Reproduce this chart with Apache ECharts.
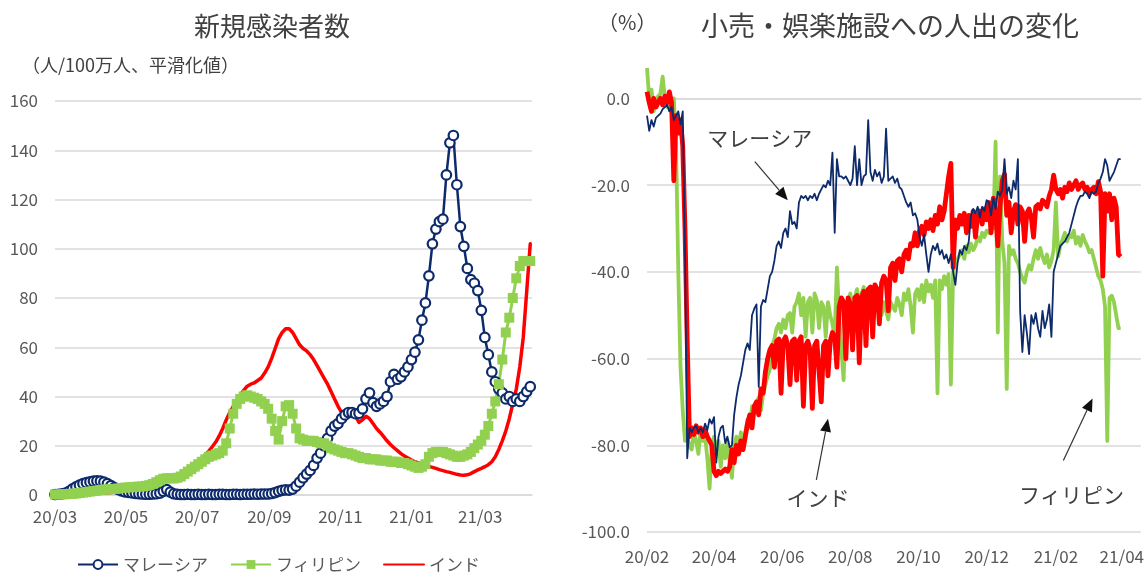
<!DOCTYPE html>
<html><head><meta charset="utf-8">
<script src="https://cdn.jsdelivr.net/npm/echarts@6/dist/echarts.min.js"></script>
<style>html,body{margin:0;padding:0;background:#fff;}#c{width:1147px;height:572px;}</style>
</head><body><div id="c"></div>
<script>
// ---------- Left chart: new cases per 1M (smoothed), one value every 3 days ----------
const caseStartDate = '2020-03-01';
const caseStepDays = 3;
const caseTickDates = ['2020-03-01','2020-05-01','2020-07-01','2020-09-01','2020-11-01','2021-01-01','2021-03-01'];
const caseTickLabels = ['20/03','20/05','20/07','20/09','20/11','21/01','21/03'];
const caseSeriesNames = ['マレーシア','フィリピン','インド'];

const casesMalaysia = [
  0.2,0.3,0.5,0.8,1.5,2.5,3.3,4,4.6,5,
  5.3,5.6,5.7,5.6,5.2,4.6,3.8,3,2.3,1.7,
  1.3,1.1,0.9,0.7,0.5,0.4,0.3,0.3,0.4,0.5,
  0.8,1.5,2.2,1.2,0.5,0.3,0.2,0.2,0.3,0.2,
  0.2,0.3,0.2,0.2,0.3,0.2,0.2,0.3,0.3,0.2,
  0.2,0.3,0.3,0.2,0.3,0.3,0.3,0.4,0.3,0.4,
  0.4,0.4,0.6,1.0,1.5,1.9,2.1,2.0,2.4,3.6,
  5.2,7,8.5,10,12,15,17,20,23,26,
  28,29,31,32.5,33.5,33.5,33,33.2,35,39,
  41.5,37.5,36,37,38,40,46,49,47,48,
  50,52,55,58,63,71,78,89,102,108,
  111,112,130,143,146,126,109,101,92,87.5,
  86,83,75,64,57,50,46,43,41.5,39,
  40,38,39,38,40,42,44
];
const casesPhilippines = [
  0.2,0.2,0.3,0.3,0.4,0.5,0.6,0.8,1,1.2,
  1.4,1.6,1.8,2,2.2,2.3,2.4,2.5,2.6,2.8,
  3,3.1,3.2,3.3,3.4,3.5,3.7,4,4.5,5.2,
  6,6.6,6.8,6.8,6.7,7,7.5,8.5,9.5,10.5,
  11.5,12.5,13.5,14.5,15.5,16,16.5,17,18,21,
  27,33,37,39,40,40.5,40,39.5,39,38,
  37,35,31,26,22.5,30,36,36.5,33,27,
  23,22.5,22,22,22,21.5,21,21,20,19,
  18.5,18,17.5,17,17,16.5,16,15.5,15,15,
  14.5,14.5,14.5,14,14,14,13.5,13.5,13.5,13,
  13,12.5,12,11.5,11,11.5,12.5,15.5,17,17.5,
  17.5,17.5,17,16.5,16,15.5,15.5,16,16.5,17.5,
  19,20.5,22,24.5,28,33,38,45,55,66,
  72,80,88,93,95,95,95
];
const casesIndia = [
  0,0,0,0.1,0.1,0.2,0.2,0.3,0.3,0.4,
  0.4,0.5,0.6,0.7,0.8,0.9,1.0,1.1,1.3,1.4,
  1.6,1.8,2.0,2.2,2.5,2.8,3.2,3.6,4.0,4.5,
  5.0,5.5,6.0,6.5,7.0,7.6,8.4,9.3,10.2,11.2,
  12.3,13.5,14.8,16.2,17.8,19.6,21.5,24,27,30.5,
  33.5,36,38.5,40.5,42.5,44.2,45,45.5,46.5,47.5,
  49.5,52,55.5,59.5,63.5,66,67.5,67.5,66,63.5,
  61,59.5,58.5,57,55,52.5,50,47.5,45,42,
  39,36,33.5,33,33.5,33.5,32,29.5,30.5,32,
  31,29,27,25.5,23.8,22,20.5,19.2,18,16.8,
  15.8,15,14.2,13.5,13,12.5,12,11.6,11.2,10.8,
  10.3,9.9,9.5,9.2,8.8,8.4,8.1,8.0,8.2,8.7,
  9.5,10.2,10.8,11.5,12.3,13.5,15.5,18.5,22,26,
  31,37,43,52,64,83,102
];

// ---------- Right chart: retail & recreation mobility change (%), one value every 2 days ----------
const mobStartDate = '2020-02-15';
const mobStepDays = 2;
const mobTickDates = ['2020-02-15','2020-04-15','2020-06-15','2020-08-15','2020-10-15','2020-12-15','2021-02-15','2021-04-15'];
const mobTickLabels = ['20/02','20/04','20/06','20/08','20/10','20/12','21/02','21/04'];

const mobMalaysia = [
  -4,-7.5,-5,-6.5,-4.5,-4,-3.5,-2.5,-2,-1.5,
  -3,-2,-5,-4,-3,-6,-3,-35,-83,-76,
  -77,-76,-75.5,-77,-76,-77,-75,-76.5,-74,-75,
  -73.5,-84,-78,-76,-75.5,-79.5,-78,-80.5,-80,-73,
  -69,-66,-64,-61,-58,-56.5,-58,-50,-48.5,-47.5,
  -66.5,-48,-46.5,-47,-44,-41,-40,-37.5,-34,-33,
  -34.5,-31,-30,-32,-26,-29,-28.5,-30,-24,-22.5,
  -23,-22.5,-23.5,-22.5,-23,-22,-23.5,-22,-21,-20,
  -20.5,-19,-20,-12.5,-31,-14,-18,-18,-18.5,-18,
  -19,-20,-18.5,-11,-20,-14,-20,-18,-17.5,-5,
  -17,-19,-16.5,-18,-17,-19.5,-18,-7,-19,-18.5,
  -18,-19.5,-18.5,-20.5,-21,-22.5,-24,-25,-24,-27,
  -26.5,-28,-32,-34,-31.5,-36,-40,-36,-34,-35,
  -33.5,-36,-35,-37,-36,-38,-36,-40,-43,-38,
  -35,-36,-34,-35,-33,-27,-25.5,-26.5,-25,-27.5,
  -25,-26,-23.5,-24,-27,-23,-25.5,-21.5,-22.5,-21,
  -14,-22,-20.5,-23,-19,-21,-14,-49,-58.5,-50,
  -54,-59,-50,-52,-49.5,-53,-55,-49,-53,-51,
  -47.5,-55,-40,-38,-36,-34,-33.5,-33,-32,-31,
  -29,-27,-25,-23.5,-22.5,-22.5,-21.5,-22,-23,-21.5,
  -22,-21.5,-19.5,-18.5,-17,-14,-15.5,-19,-18,-17,
  -15.5,-14,-14
];
const mobPhilippines = [
  7,0,2,-3,-1,0.5,1,5,0,-2,
  -1,-3,0,-11,-40,-62,-72,-79,-78,-80,
  -81,-77,-79,-82,-76.5,-79,-78,-83,-90,-80,
  -78,-82,-79,-85,-80,-83,-79,-84,-87.5,-80,
  -78,-81,-77,-79,-77,-74,-76,-71,-72.5,-70,
  -69,-72,-68,-66,-64,-62.5,-57,-55.5,-53,-52,
  -54,-51,-53,-50,-49.5,-54,-48,-47,-45,-50,
  -46,-55,-47,-46,-54,-45,-46.5,-53,-47,-48,
  -55,-47,-50,-52,-55,-39,-50,-58,-65,-48,
  -47,-45,-49,-46,-44,-47.5,-45,-43.5,-48,-44,
  -45.5,-44,-47,-48,-46.5,-50,-47,-49,-51,-47,
  -48,-49,-46,-47.5,-50,-45,-46.5,-44,-48,-54,
  -45,-44,-46.5,-43,-47,-42,-44.5,-43,-46,-42,
  -68,-42,-44,-41,-43,-40.5,-66,-40,-38,-37,
  -36,-35,-37,-34,-35.5,-33.5,-35,-34,-32,-33,
  -31,-32,-30.5,-31,-29.5,-30,-10,-54,-18,-33,
  -38,-67,-34,-36,-35,-37,-38,-40,-41.5,-42.5,
  -40,-38.5,-39.5,-37,-35,-37,-34.5,-36.5,-38,-36,
  -39,-37.5,-35,-24,-36.5,-34,-32.5,-31,-33,-31.5,
  -32,-30.5,-33.5,-32,-34,-31.5,-33,-34,-35.5,-35,
  -37,-39,-41,-42,-44,-48,-79,-46,-45.5,-47,
  -50,-53,-53
];
const mobIndia = [
  1.5,-1,-3,0,-2,-1,0,-1.5,0.5,-1,
  1.5,-1,-19,-4,-8,-5,-11,-30,-56,-78,
  -76,-77.5,-75.5,-77,-76,-78,-76.5,-78,-79,-80,
  -86,-87,-86,-86.5,-86,-85.5,-86,-85,-81,-84,
  -80,-82,-79,-81,-78,-75,-73,-76,-71,-70,
  -73,-67,-68,-63,-60,-58,-57,-62,-56,-55.5,
  -68,-56,-55,-57,-66,-56,-55.5,-65,-56,-55,
  -71,-57,-56,-58,-71.5,-57,-56,-63,-70,-57,
  -56,-64,-56,-54,-55,-62,-48,-46,-47,-60,
  -46,-47.5,-58,-46,-45.5,-61,-46,-44.5,-57,-44,
  -43.5,-55,-43,-44,-52,-42.5,-41,-42,-49,-39,
  -38,-42,-37.5,-37,-40,-36,-35,-37,-33.5,-34,
  -31,-34,-30.5,-29.5,-31.5,-28.5,-30,-28,-30.5,-27,
  -29,-25,-28,-26,-22,-18,-15,-39,-28,-30,
  -27,-29,-26.5,-31,-27,-29.5,-26,-32,-27,-26,
  -29,-25.5,-28,-24,-31,-23,-26,-34,-25,-19,
  -17.5,-27,-24,-31,-26,-24.5,-29,-25,-26,-33,
  -26.5,-25.5,-27.5,-32,-25,-24.5,-25.5,-23.5,-24,-25,
  -22.5,-21,-17.7,-21,-22,-21,-23,-20.5,-21.5,-19.5,
  -21,-20,-19,-21,-20,-19.5,-21,-20.5,-22,-21,
  -20.5,-22,-19.2,-21.5,-41,-22,-26,-22,-28,-23,
  -25,-36,-36.5
];

// annotation labels on the right chart (in data units: day since mobStartDate, %)
const annoTexts = ['マレーシア','インド','フィリピン'];
const annoTextAt = [[101,-9.2],[153,-92.2],[380,-91.5]];
const annoArrowFrom = [[96.5,-14.6],[151.6,-88],[372.7,-83.5]];
const annoArrowTo = [[126,-23.5],[162,-73.9],[398.8,-69.2]];

// ---------- helpers ----------
const DAY = 86400000;
const dayOf = (start, d) => Math.round((Date.parse(d) - Date.parse(start)) / DAY);
const toPairs = (vals, step) => vals.map((v, i) => [i * step, v]);
const caseTickDays = caseTickDates.map(d => dayOf(caseStartDate, d));
const mobTickDays = mobTickDates.map(d => dayOf(mobStartDate, d));

const FONT = '"Noto Sans CJK JP","Noto Sans",sans-serif';
const AX = '#595959', GRIDC = '#D9D9D9', TXT = '#404040';
const NAVY = '#0D2A6B', GREEN = '#92D050', RED = '#FF0000';

const chart = echarts.init(document.getElementById('c'), null, {renderer: 'canvas'});

const option = {
  animation: false,
  backgroundColor: '#fff',
  textStyle: {fontFamily: FONT},
  grid: [
    {left: 55, top: 101, width: 477, height: 394},
    {left: 647, top: 55, width: 495, height: 477}
  ],
  legend: {
    data: [
      {name: caseSeriesNames[0]},
      {name: caseSeriesNames[1]},
      {name: caseSeriesNames[2], itemStyle: {opacity: 0}}
    ],
    left: 72, top: 551,
    itemWidth: 40, itemHeight: 11, itemGap: 22,
    textStyle: {fontSize: 17, color: AX, fontFamily: FONT},
    selectedMode: false
  },
  xAxis: [
    {gridIndex: 0, type: 'value', min: 0, max: 409.5,
     axisLine: {show: true, lineStyle: {color: GRIDC, width: 1.5}},
     axisTick: {show: false}, splitLine: {show: false},
     axisLabel: {customValues: caseTickDays, color: AX, fontSize: 17, margin: 13, fontFamily: FONT,
       formatter: v => caseTickLabels[caseTickDays.indexOf(Math.round(v))] || ''}},
    {gridIndex: 1, type: 'value', min: 0, max: 442,
     axisLine: {show: true, lineStyle: {color: GRIDC, width: 1.5}},
     axisTick: {show: false}, splitLine: {show: false},
     axisLabel: {customValues: mobTickDays, color: AX, fontSize: 17, margin: 16, fontFamily: FONT,
       formatter: v => mobTickLabels[mobTickDays.indexOf(Math.round(v))] || ''}}
  ],
  yAxis: [
    {gridIndex: 0, type: 'value', min: 0, max: 160, interval: 20,
     axisLine: {show: false}, axisTick: {show: false},
     splitLine: {lineStyle: {color: GRIDC, width: 1.5}},
     axisLabel: {color: AX, fontSize: 17, margin: 17, fontFamily: FONT}},
    {gridIndex: 1, type: 'value', min: -100, max: 10, interval: 20,
     axisLine: {show: false}, axisTick: {show: false},
     splitLine: {lineStyle: {color: GRIDC, width: 1.5}, showMaxLine: false},
     axisLabel: {color: AX, fontSize: 17, margin: 17, fontFamily: FONT, showMaxLabel: false,
       formatter: v => (v > 0 ? '' : v.toFixed(1))}}
  ],
  series: [
    {name: caseSeriesNames[0], type: 'line', xAxisIndex: 0, yAxisIndex: 0,
     data: toPairs(casesMalaysia, caseStepDays),
     symbol: 'circle', symbolSize: 9.5, showSymbol: true,
     itemStyle: {color: '#fff', borderColor: NAVY, borderWidth: 2.2},
     lineStyle: {color: NAVY, width: 2.5, join: 'round'}, silent: true},
    {name: caseSeriesNames[1], type: 'line', xAxisIndex: 0, yAxisIndex: 0,
     data: toPairs(casesPhilippines, caseStepDays),
     symbol: 'rect', symbolSize: 10, showSymbol: true,
     itemStyle: {color: GREEN},
     lineStyle: {color: GREEN, width: 3, join: 'round'}, silent: true},
    {name: caseSeriesNames[2], type: 'line', xAxisIndex: 0, yAxisIndex: 0,
     data: toPairs(casesIndia, caseStepDays),
     symbol: 'none', showSymbol: false,
     itemStyle: {color: RED},
     lineStyle: {color: RED, width: 3.5, join: 'round', cap: 'round'}, silent: true},

    {name: 'mob-PH', type: 'line', xAxisIndex: 1, yAxisIndex: 1,
     data: toPairs(mobPhilippines, mobStepDays), showSymbol: false, symbol: 'none',
     lineStyle: {color: GREEN, width: 3.8, join: 'round'}, silent: true},
    {name: 'mob-IN', type: 'line', xAxisIndex: 1, yAxisIndex: 1,
     data: toPairs(mobIndia, mobStepDays), showSymbol: false, symbol: 'none',
     lineStyle: {color: RED, width: 4.8, join: 'round'}, silent: true},
    {name: 'mob-MY', type: 'line', xAxisIndex: 1, yAxisIndex: 1,
     data: toPairs(mobMalaysia, mobStepDays), showSymbol: false, symbol: 'none',
     lineStyle: {color: NAVY, width: 1.8, join: 'round'}, silent: true}
  ]
};
chart.setOption(option);

// titles and annotations
const g = [];
const txt = (text, x, y, size, align, color) => ({
  type: 'text', x: x, y: y, silent: true,
  style: {text: text, fontSize: size, fontFamily: FONT, fill: color || TXT,
          align: align || 'center', textAlign: align || 'center',
          verticalAlign: 'middle', textVerticalAlign: 'middle'}
});
g.push(txt('新規感染者数', 272, 26, 26));
g.push(txt('（人/100万人、平滑化値）', 22, 65, 18, 'left'));
g.push(txt('（%）', 598, 22, 20, 'left'));
g.push(txt('小売・娯楽施設への人出の変化', 890, 26, 27));

annoTexts.forEach((t, i) => {
  const p = chart.convertToPixel({gridIndex: 1}, annoTextAt[i]);
  g.push(txt(t, p[0], p[1], 21));
  const a = chart.convertToPixel({gridIndex: 1}, annoArrowFrom[i]);
  const b = chart.convertToPixel({gridIndex: 1}, annoArrowTo[i]);
  const dx = b[0] - a[0], dy = b[1] - a[1];
  const L = Math.hypot(dx, dy), ux = dx / L, uy = dy / L;
  const hl = 13, hw = 5.5;
  const bx = b[0] - ux * hl, by = b[1] - uy * hl;
  g.push({type: 'line', silent: true, shape: {x1: a[0], y1: a[1], x2: bx, y2: by},
          style: {stroke: '#333', lineWidth: 1.2}});
  g.push({type: 'polygon', silent: true,
          shape: {points: [[b[0], b[1]], [bx - uy * hw, by + ux * hw], [bx + uy * hw, by - ux * hw]]},
          style: {fill: '#111'}});
});
chart.setOption({graphic: g});
</script>
</body></html>
